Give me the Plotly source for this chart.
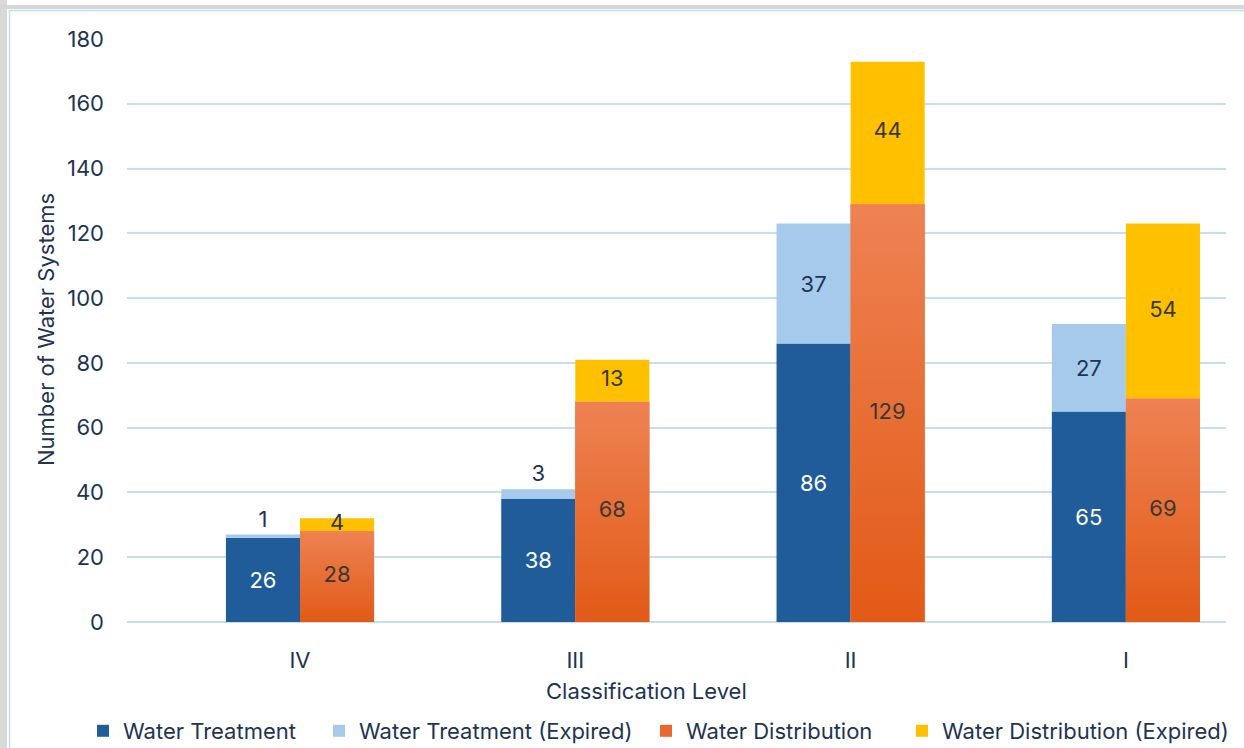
import plotly.graph_objects as go

# Classification levels and counts of water systems
levels = ["IV", "III", "II", "I"]
treatment = [26, 38, 86, 65]
treatment_expired = [1, 3, 37, 27]
distribution = [28, 68, 129, 69]
distribution_expired = [4, 13, 44, 54]

pos = list(range(len(levels)))
W = 0.269  # width of one bar in category units

FONT = "Inter"
FS = 22
TEXT = "#1E3452"
LABEL_DARK = "#383838"
BLUE = "#1F5C99"
LIGHT_BLUE = "#A6CAEC"
ORANGE = "#E8692B"
YELLOW = "#FFC000"
GRID = "#C9DDF2"

FIG_W, FIG_H = 1244, 748
L, R, T, B = 127, 18, 39, 126
PW, PH = FIG_W - L - R, FIG_H - T - B


def px_x(px):
    return (px - L) / PW


def px_y(py):
    return (FIG_H - B - py) / PH


fig = go.Figure()

fig.add_bar(
    x=pos, y=treatment, offset=-W, width=W, name="Water Treatment",
    marker=dict(color=BLUE, line_width=0),
    text=treatment, textposition="inside", insidetextanchor="middle",
    constraintext="none", textfont=dict(color="white", size=FS, family=FONT),
    legend="legend",
)
fig.add_bar(
    x=pos, y=treatment_expired, base=treatment, offset=-W, width=W,
    name="Water Treatment (Expired)",
    marker=dict(color=LIGHT_BLUE, line_width=0),
    text=treatment_expired,
    textposition=["outside" if v < 5 else "inside" for v in treatment_expired],
    insidetextanchor="middle", constraintext="none", cliponaxis=False,
    textfont=dict(color=TEXT, size=FS, family=FONT),
    legend="legend2",
)
fig.add_bar(
    x=pos, y=distribution, offset=0, width=W, name="Water Distribution",
    marker=dict(color=ORANGE, line_width=0),
    legend="legend3",
)
fig.add_bar(
    x=pos, y=distribution_expired, base=distribution, offset=0, width=W,
    name="Water Distribution (Expired)",
    marker=dict(color=YELLOW, line_width=0),
    legend="legend4",
)

# vertical shading on the distribution bars
for i, d in zip(pos, distribution):
    fig.add_scatter(
        x=[i, i, i + W, i + W], y=[0, d, d, 0], mode="lines", fill="toself",
        line=dict(width=0), hoverinfo="skip", showlegend=False,
        fillgradient=dict(type="vertical", start=0, stop=d,
                          colorscale=[[0, "#E25A16"], [1, "#EE8253"]]),
    )

# value labels for the distribution stack, drawn above the shading
label_x = [i + W / 2 for i in pos] * 2
label_y = [d / 2 for d in distribution] + [
    d + e / 2 for d, e in zip(distribution, distribution_expired)
]
label_text = [str(v) for v in distribution + distribution_expired]
fig.add_scatter(
    x=label_x, y=label_y, mode="text", text=label_text, cliponaxis=False,
    hoverinfo="skip", showlegend=False,
    textfont=dict(color=LABEL_DARK, size=FS, family=FONT),
)

legend_style = dict(
    orientation="h", yanchor="middle", xanchor="left",
    font=dict(family=FONT, size=FS, color=TEXT), bgcolor="rgba(0,0,0,0)",
    y=px_y(731),
)
fig.update_layout(
    legend=dict(x=px_x(123 - 40), **legend_style),
    legend2=dict(x=px_x(359 - 40), **legend_style),
    legend3=dict(x=px_x(686 - 40), **legend_style),
    legend4=dict(x=px_x(942 - 40), **legend_style),
)

fig.update_layout(
    width=FIG_W, height=FIG_H,
    margin=dict(l=L, r=R, t=T, b=B, autoexpand=False),
    barmode="overlay",
    plot_bgcolor="white", paper_bgcolor="white",
    font=dict(family=FONT, size=FS, color=TEXT),
    xaxis=dict(
        range=[(L - 300) / 275.3, (FIG_W - R - 300) / 275.3],
        tickvals=pos, ticktext=levels, showgrid=False, zeroline=False,
        showline=False, ticks="", ticklabelstandoff=23,
        tickfont=dict(size=FS, color=TEXT),
    ),
    yaxis=dict(
        range=[0, 180], dtick=20, showgrid=True, gridcolor=GRID, gridwidth=2,
        zeroline=True, zerolinecolor=GRID, zerolinewidth=2, showline=False,
        ticks="", ticklabelstandoff=22, tickfont=dict(size=FS, color=TEXT),
    ),
    annotations=[
        dict(text="Number of Water Systems", textangle=-90, xref="paper",
             yref="paper", x=px_x(46), y=px_y(330), xanchor="center",
             yanchor="middle", showarrow=False,
             font=dict(size=FS, color=TEXT)),
        dict(text="Classification Level", xref="paper", yref="paper",
             x=px_x(646), y=px_y(691), xanchor="center", yanchor="middle",
             showarrow=False, font=dict(size=FS, color=TEXT)),
    ],
    shapes=[
        dict(type="rect", xref="paper", yref="paper", x0=px_x(0), x1=px_x(7),
             y0=px_y(0), y1=px_y(FIG_H), fillcolor="#D9D9D9", line_width=0,
             layer="below"),
        dict(type="rect", xref="paper", yref="paper", x0=px_x(0), x1=px_x(FIG_W),
             y0=px_y(5), y1=px_y(9), fillcolor="#D6D6D6", line_width=0,
             layer="below"),
        dict(type="line", xref="paper", yref="paper", x0=px_x(9.5), x1=px_x(9.5),
             y0=px_y(10), y1=px_y(FIG_H), line=dict(color="#C6DCF2", width=1.5)),
        dict(type="line", xref="paper", yref="paper", x0=px_x(9), x1=px_x(FIG_W),
             y0=px_y(10.5), y1=px_y(10.5), line=dict(color="#C6DCF2", width=1.5)),
    ],
)

fig.write_html("out.html")
